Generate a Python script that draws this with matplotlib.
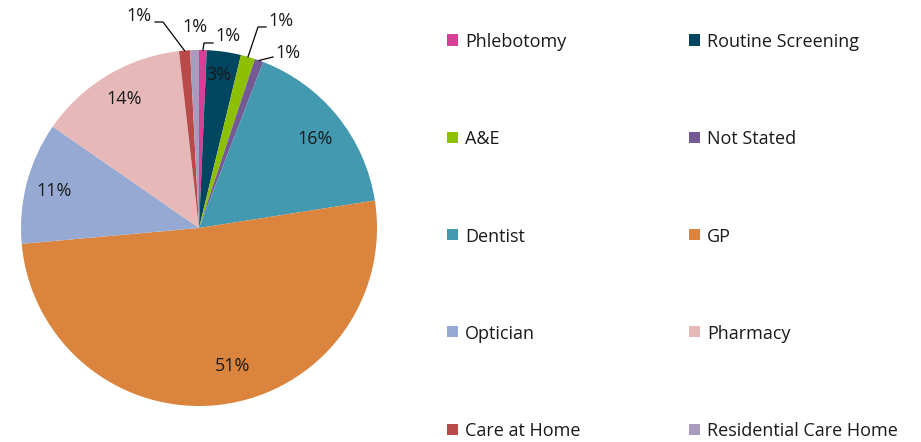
import numpy as np
import matplotlib
matplotlib.use("Agg")
import matplotlib.pyplot as plt
from matplotlib.patches import Rectangle

categories = ["Phlebotomy", "Routine Screening", "A&E", "Not Stated", "Dentist",
              "GP", "Optician", "Pharmacy", "Care at Home", "Residential Care Home"]
values = [0.7, 3.1, 1.3, 0.8, 16.7, 51.2, 11.1, 13.6, 1.0, 0.8]
pct_labels = ["1%", "3%", "1%", "1%", "16%", "51%", "11%", "14%", "1%", "1%"]
colors = ["#D63F96", "#004660", "#8CC000", "#735A94", "#4299B0",
          "#DB843D", "#95A9D3", "#E6B9B8", "#B84B4A", "#A99BBD"]

plt.rcParams['font.family'] = ['Open Sans', 'DejaVu Sans']

W, H = 921, 442
fig = plt.figure(figsize=(W / 100, H / 100), dpi=100)
cx, cy, r = 199, 228, 178
ax = fig.add_axes([(cx - r) / W, (H - cy - r) / H, 2 * r / W, 2 * r / H])

wedges, _ = ax.pie(values, colors=colors, startangle=90, counterclock=False,
                   wedgeprops=dict(edgecolor="none", linewidth=0))
ax.set_xlim(-1, 1)
ax.set_ylim(-1, 1)
ax.set_aspect("equal")
ax.axis("off")


def px(x, y):
    return ((x - cx) / r, (cy - y) / r)


# inside labels
inside = {1: px(219, 75), 4: px(315, 139), 5: px(232, 366), 6: px(54, 191), 7: px(124, 99)}
for i, (tx, ty) in inside.items():
    ax.text(tx, ty, pct_labels[i], ha="center", va="center", fontsize=13, color="#1a1a1a")

# outside labels with leader lines
outside = {
    8: dict(text=px(139, 16), elbow=[px(155, 22), px(163, 22)]),
    9: dict(text=px(195, 27), elbow=None),
    0: dict(text=px(228, 36), elbow=[px(213, 43), px(204, 43)]),
    2: dict(text=px(281, 21), elbow=[px(266, 27), px(258, 27)]),
    3: dict(text=px(288, 53), elbow=[px(273, 57)]),
}
for i, spec in outside.items():
    w = wedges[i]
    mid = np.deg2rad((w.theta1 + w.theta2) / 2)
    ex, ey = np.cos(mid), np.sin(mid)
    tx, ty = spec["text"]
    ax.text(tx, ty, pct_labels[i], ha="center", va="center", fontsize=13, color="#1a1a1a")
    if spec["elbow"]:
        pts = spec["elbow"] + [(ex, ey)]
        ax.plot([p[0] for p in pts], [p[1] for p in pts], color="black",
                linewidth=0.9, clip_on=False)

# legend, row-wise in two columns
col_x = [447, 689]
row_y0, row_dy = 40, 97.3
sq = 11
for k, name in enumerate(categories):
    row, col = divmod(k, 2)
    x0 = col_x[col]
    yc = row_y0 + row * row_dy
    fig.patches.append(Rectangle((x0 / W, (H - yc - sq / 2) / H), sq / W, sq / H,
                                 facecolor=colors[k], edgecolor="none",
                                 transform=fig.transFigure))
    fig.text((x0 + sq + 7) / W, (H - yc) / H, name, ha="left", va="center_baseline",
             fontsize=13, color="#1a1a1a")

fig.savefig("out.png", dpi=100)
